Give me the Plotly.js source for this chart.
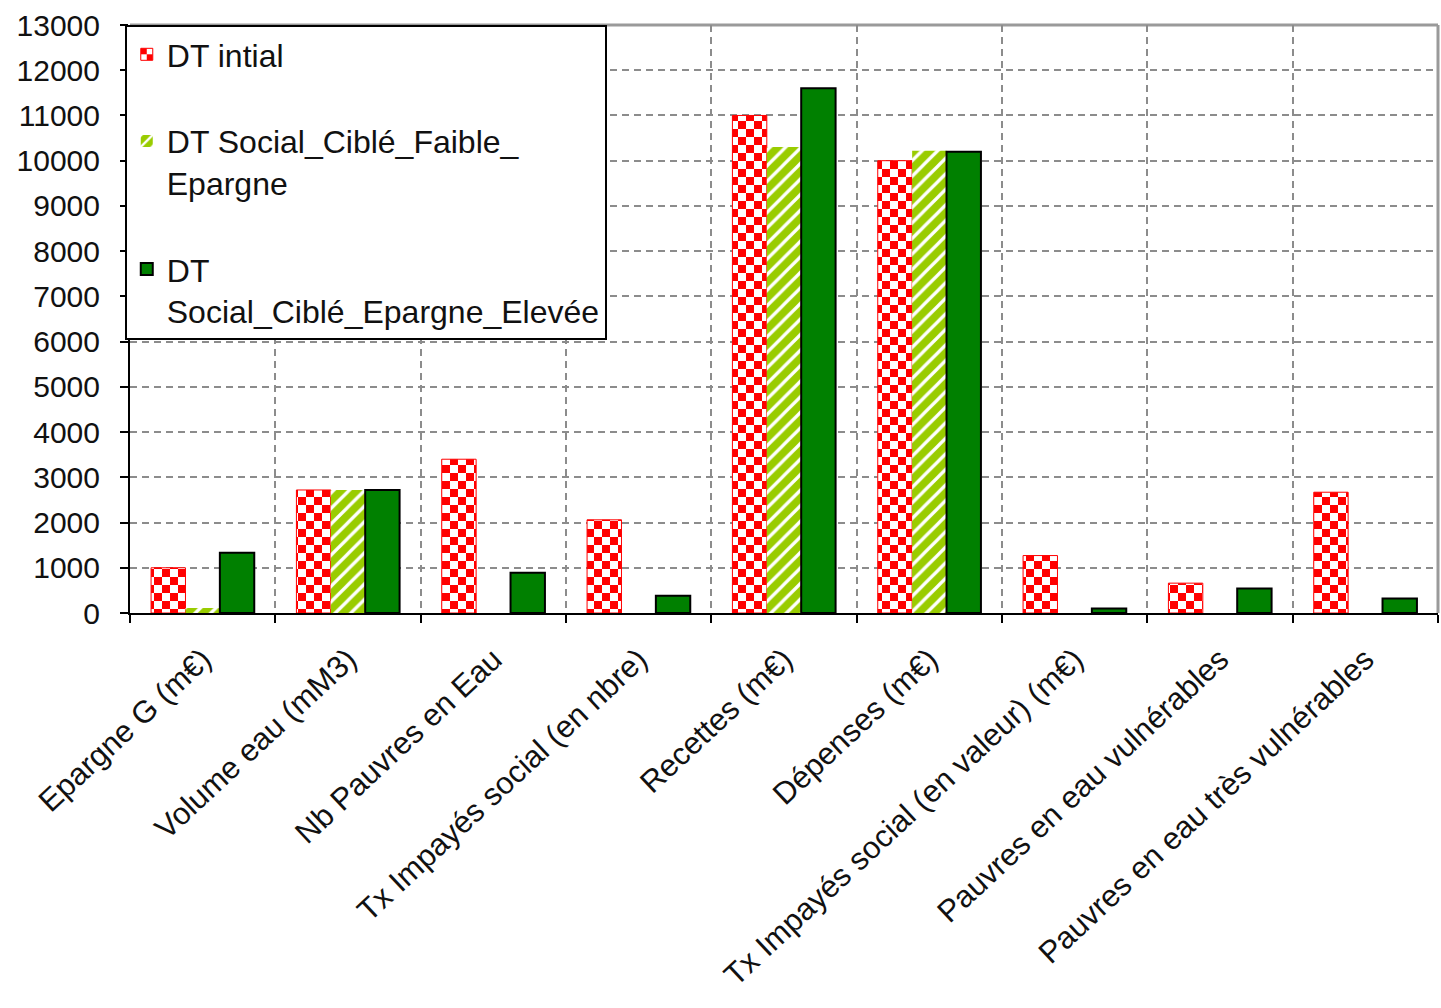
<!DOCTYPE html>
<html>
<head>
<meta charset="utf-8">
<script src="https://cdn.plot.ly/plotly-3.0.1.min.js"></script>
<style>
  html, body { margin: 0; padding: 0; background: #ffffff; }
  #chart { width: 1441px; height: 1008px; }
</style>
</head>
<body>
<div id="chart"></div>
<script>
// ---- data ----
const categories = [
  'Epargne G (m€)',
  'Volume eau (mM3)',
  'Nb Pauvres en Eau',
  'Tx Impayés social (en nbre)',
  'Recettes (m€)',
  'Dépenses (m€)',
  'Tx Impayés social (en valeur) (m€)',
  'Pauvres en eau vulnérables',
  'Pauvres en eau très vulnérables'
];
const seriesNames = [
  'DT intial',
  'DT Social_Ciblé_Faible_<br>Epargne',
  'DT<br>Social_Ciblé_Epargne_Elevée'
];
const dtInitial = [1000, 2720, 3400, 2060, 11000, 10000, 1270, 660, 2670];
const dtFaible  = [110, 2720, 0, 0, 10300, 10220, 0, 0, 0];
const dtElevee  = [1330, 2720, 890, 380, 11600, 10200, 100, 540, 320];
const yTicks = [0,1000,2000,3000,4000,5000,6000,7000,8000,9000,10000,11000,12000,13000];

const FONT = 'Arial, "Liberation Sans", sans-serif';
const GRID = '#8c8c8c';

const data = [
  {
    type: 'bar', name: seriesNames[0], x: categories, y: dtInitial, legendgroup: 'a',
    marker: {
      color: '#ff0000',
      line: { color: '#ff0000', width: 1 },
      pattern: { shape: '.', bgcolor: '#ffffff', fgcolor: '#ff0000', size: 16, solidity: 0.5, fillmode: 'replace' }
    },
    hoverinfo: 'skip'
  },
  {
    type: 'bar', name: seriesNames[1], x: categories, y: dtFaible, legendgroup: 'b',
    marker: {
      color: '#99cc00',
      line: { color: '#99cc00', width: 0 },
      pattern: { shape: '/', bgcolor: '#99cc00', fgcolor: '#ffffff', size: 11, solidity: 0.3, fillmode: 'replace' }
    },
    hoverinfo: 'skip'
  },
  {
    type: 'bar', name: seriesNames[2], x: categories, y: dtElevee, legendgroup: 'c',
    marker: { color: '#008000', line: { color: '#000000', width: 2 } },
    hoverinfo: 'skip'
  }
];

const layout = {
  width: 1441, height: 1008,
  margin: { l: 130, r: 3, t: 25, b: 395, pad: 0 },
  paper_bgcolor: '#ffffff', plot_bgcolor: '#ffffff',
  font: { family: FONT, color: '#111111', size: 30 },
  barmode: 'group', bargap: 0.29, bargroupgap: 0,
  showlegend: true,
  legend: {
    x: -0.004, xanchor: 'left', y: 1, yanchor: 'top',
    bgcolor: '#ffffff', bordercolor: '#000000', borderwidth: 2,
    font: { family: FONT, size: 32, color: '#111111' },
    valign: 'top', tracegroupgap: 42, traceorder: 'grouped',
    itemclick: false, itemdoubleclick: false
  },
  xaxis: {
    type: 'category', automargin: false,
    tickson: 'boundaries', ticks: 'outside', ticklen: 8, tickwidth: 2, tickcolor: '#000000',
    showline: true, linecolor: '#000000', linewidth: 2,
    showgrid: true, gridcolor: GRID, gridwidth: 2, griddash: '7px,5px',
    tickangle: -43, tickfont: { family: FONT, size: 31, color: '#111111' },
    ticklabelstandoff: 14,
    fixedrange: true
  },
  yaxis: {
    range: [0, 13000], tickmode: 'array', tickvals: yTicks, ticktext: yTicks.map(String),
    automargin: false,
    ticks: 'outside', ticklen: 8, tickwidth: 2, tickcolor: '#000000',
    showline: true, linecolor: '#000000', linewidth: 2,
    showgrid: true, gridcolor: GRID, gridwidth: 2, griddash: '7px,5px',
    zeroline: false,
    tickfont: { family: FONT, size: 30, color: '#111111' },
    ticklabelstandoff: 14,
    fixedrange: true
  },
  shapes: [
    { type: 'line', xref: 'paper', yref: 'paper', x0: 0, x1: 1, y0: 1, y1: 1, line: { color: '#9a9a9a', width: 3 }, layer: 'below' },
    { type: 'line', xref: 'paper', yref: 'paper', x0: 1, x1: 1, y0: 0, y1: 1, line: { color: '#9a9a9a', width: 3 }, layer: 'below' }
  ]
};

// turn the dotted pattern of the first series into the checkerboard texture of the reference
function checkerPatterns(gd) {
  const NS = 'http://www.w3.org/2000/svg';
  gd.querySelectorAll('pattern').forEach(function (p) {
    if (!p.querySelector('circle')) return;
    const s = 16, h = 8;
    p.setAttribute('width', s);
    p.setAttribute('height', s);
    while (p.firstChild) p.removeChild(p.firstChild);
    [[0, 0, s, s, '#ffffff'], [0, 0, h, h, '#ff0000'], [h, h, h, h, '#ff0000']].forEach(function (r) {
      const e = document.createElementNS(NS, 'rect');
      e.setAttribute('x', r[0]); e.setAttribute('y', r[1]);
      e.setAttribute('width', r[2]); e.setAttribute('height', r[3]);
      e.setAttribute('fill', r[4]);
      p.appendChild(e);
    });
  });
}

Plotly.newPlot('chart', data, layout, { staticPlot: true, displayModeBar: false }).then(checkerPatterns);
</script>
</body>
</html>
